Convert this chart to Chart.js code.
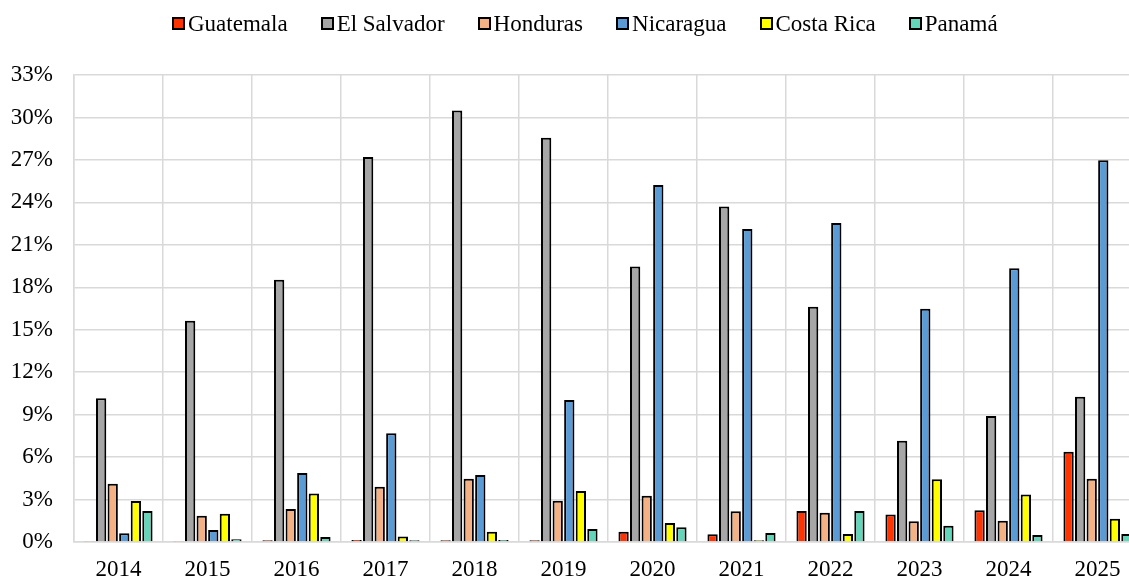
<!DOCTYPE html>
<html>
<head>
<meta charset="utf-8">
<script src="https://cdn.jsdelivr.net/npm/chart.js@4.4.1/dist/chart.umd.min.js"></script>
<style>
  html, body { margin: 0; padding: 0; background: #fff; overflow: hidden; width: 1129px; height: 579px; }
  #wrap { position: absolute; left: 0; top: 0; width: 1144px; height: 579px; }
  #legend { position: absolute; left: 172px; top: 12px; white-space: nowrap; display: flex;
            font-family: 'Liberation Serif', 'Times New Roman', serif; font-size: 23px; line-height: 23px; color: #000; }
  .item { display: inline-flex; align-items: center; margin-right: 33px; }
  .box { width: 9px; height: 9px; border: 2px solid #000; margin-right: 3px; }
</style>
</head>
<body>
<div id="wrap"><canvas id="c"></canvas></div>
<div id="legend"></div>
<script>
const years = ['2014','2015','2016','2017','2018','2019','2020','2021','2022','2023','2024','2025'];
const seriesNames = ['Guatemala','El Salvador','Honduras','Nicaragua','Costa Rica','Panamá'];
const guatemala  = [0.03, 0.03, 0.12, 0.15, 0.12, 0.12, 0.73, 0.54, 2.19, 1.95, 2.24, 6.38];
const elSalvador = [10.15, 15.64, 18.54, 27.2, 30.5, 28.57, 19.46, 23.7, 16.63, 7.16, 8.9, 10.27];
const honduras   = [4.12, 1.86, 2.33, 3.9, 4.47, 2.92, 3.27, 2.17, 2.07, 1.46, 1.51, 4.47];
const nicaragua  = [0.61, 0.85, 4.88, 7.68, 4.73, 10.04, 25.23, 22.12, 22.54, 16.49, 19.34, 26.97];
const costaRica  = [2.9, 2.0, 3.42, 0.38, 0.73, 3.6, 1.34, 0.12, 0.57, 4.43, 3.35, 1.65];
const panama     = [2.19, 0.2, 0.35, 0.12, 0.15, 0.92, 1.04, 0.64, 2.19, 1.15, 0.49, 0.57];
const yTicks = [0, 3, 6, 9, 12, 15, 18, 21, 24, 27, 30, 33];

const colors = ['#FF3300', '#A6A6A6', '#F4B183', '#5B9BD5', '#FFFF00', '#63D6BA'];
const values = [guatemala, elSalvador, honduras, nicaragua, costaRica, panama];

const FONT = "'Liberation Serif', 'Times New Roman', serif";

const datasets = seriesNames.map((name, i) => ({
  label: name,
  data: values[i],
  backgroundColor: colors[i],
  borderColor: '#000',
  borderWidth: 2,
  borderSkipped: 'start',
  categoryPercentage: 0.78,
  barPercentage: 0.89
}));

const chart = new Chart(document.getElementById('c'), {
  type: 'bar',
  data: { labels: years, datasets },
  options: {
    responsive: true,
    maintainAspectRatio: false,
    animation: false,
    layout: { padding: { top: 75, right: 2, left: 0, bottom: 0 } },
    plugins: { legend: { display: false }, tooltip: { enabled: false } },
    scales: {
      x: {
        grid: { color: '#D9D9D9', lineWidth: 1.5, drawTicks: false, offset: true },
        border: { color: '#D9D9D9', width: 1.5 },
        ticks: { color: '#000', font: { family: FONT, size: 23 }, padding: 14 },
        afterFit(scale) { scale.height = 37; }
      },
      y: {
        min: 0, max: 33,
        afterBuildTicks(scale) { scale.ticks = yTicks.map(v => ({ value: v })); },
        grid: { color: '#D9D9D9', lineWidth: 1.5, drawTicks: false },
        border: { color: '#D9D9D9', width: 1.5 },
        ticks: { color: '#000', font: { family: FONT, size: 23 }, padding: 21,
                 callback: v => v + '%' },
        afterFit(scale) { scale.width = 74; }
      }
    }
  }
});

const legend = document.getElementById('legend');
chart.data.datasets.forEach(ds => {
  const it = document.createElement('span');
  it.className = 'item';
  const b = document.createElement('span');
  b.className = 'box';
  b.style.background = ds.backgroundColor;
  const t = document.createElement('span');
  t.textContent = ds.label;
  it.appendChild(b); it.appendChild(t);
  legend.appendChild(it);
});
</script>
</body>
</html>
